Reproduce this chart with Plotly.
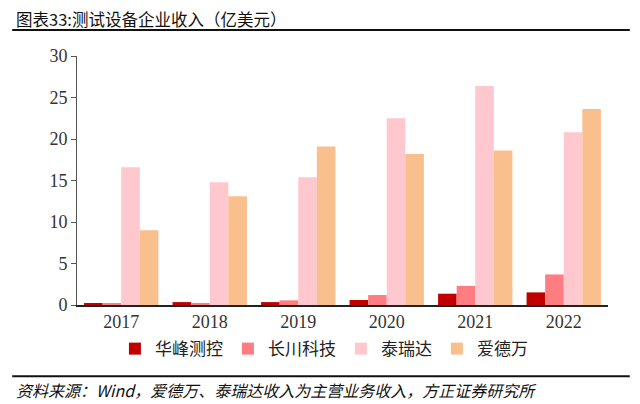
import plotly.graph_objects as go

years = ["2017", "2018", "2019", "2020", "2021", "2022"]
huafeng = [0.24, 0.35, 0.35, 0.6, 1.36, 1.52]
changchuan = [0.2, 0.25, 0.56, 1.2, 2.3, 3.68]
teradyne = [16.6, 14.8, 15.4, 22.5, 26.4, 20.8]
advantest = [9.0, 13.1, 19.1, 18.2, 18.6, 23.6]

names = ["华峰测控", "长川科技", "泰瑞达", "爱德万"]
colors = ["#C00000", "#FF7C80", "#FFC7CE", "#F9C08E"]

fig = go.Figure()
for name, vals, c in zip(names, [huafeng, changchuan, teradyne, advantest], colors):
    fig.add_trace(go.Bar(x=years, y=vals, name=name, marker_color=c,
                         marker_line_width=0))

cjk = "Noto Sans CJK SC"
# page body adds an 8px margin, so the figure is 8px smaller on each side
fig.update_layout(
    width=632, height=396,
    margin=dict(l=69, r=32, t=48, b=99),
    paper_bgcolor="white", plot_bgcolor="white",
    barmode="group", bargap=0.16, bargroupgap=0,
    showlegend=True,
    legend=dict(orientation="h", x=0.465, xanchor="center", y=-0.177, yanchor="middle",
                font=dict(family=cjk, size=17, color="#222222"),
                itemwidth=30, traceorder="normal"),
    xaxis=dict(showline=True, linecolor="#222222", linewidth=1.5,
               ticks="", showgrid=False,
               tickfont=dict(family="Liberation Serif", size=18, color="#333333")),
    yaxis=dict(range=[0, 30], dtick=5, showline=True, linecolor="#555555",
               linewidth=1, ticks="outside", ticklen=5, tickcolor="#555555",
               showgrid=False, zeroline=False,
               tickfont=dict(family="Liberation Serif", size=18, color="#333333")),
)

fig.add_annotation(text="图表33:测试设备企业收入（亿美元）", xref="paper", yref="paper",
                   x=-0.119, y=1.15, xanchor="left", yanchor="middle", showarrow=False,
                   font=dict(family=cjk, size=16.5, color="#111111"))
fig.add_shape(type="line", xref="paper", yref="paper", x0=-0.122, x1=1.041,
              y0=1.104, y1=1.104, line=dict(color="#111111", width=2))
fig.add_shape(type="line", xref="paper", yref="paper", x0=-0.122, x1=1.041,
              y0=-0.286, y1=-0.286, line=dict(color="#111111", width=2))
fig.add_annotation(text="<i>资料来源：Wind，爱德万、泰瑞达收入为主营业务收入，方正证券研究所</i>",
                   xref="paper", yref="paper", x=-0.119, y=-0.343,
                   xanchor="left", yanchor="middle", showarrow=False,
                   font=dict(family=cjk, size=16, color="#111111"))

fig.write_html("out.html")
